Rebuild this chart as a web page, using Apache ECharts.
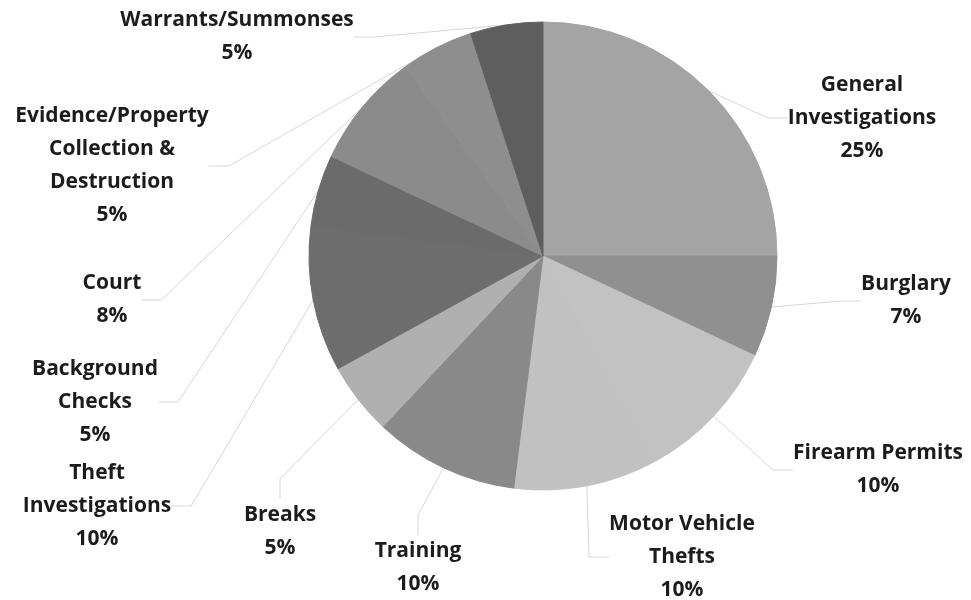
<html>
<head>
<meta charset="utf-8">
<style>
  html, body { margin: 0; padding: 0; background: #ffffff; }
  #chart1 { width: 971px; height: 600px; }
</style>
</head>
<body>
<div id="chart1"></div>
<script src="https://cdn.jsdelivr.net/npm/echarts@6/dist/echarts.min.js"></script>
<script>
  // categories, clockwise from 12 o'clock
  const categories = [
    'General\nInvestigations', 'Burglary', 'Firearm Permits', 'Motor Vehicle\nThefts',
    'Training', 'Breaks', 'Theft\nInvestigations', 'Background\nChecks',
    'Court', 'Evidence/Property\nCollection &\nDestruction', 'Warrants/Summonses'
  ];
  const values = [25, 7, 10, 10, 10, 5, 10, 5, 8, 5, 5];
  const colors = ['#a4a4a4', '#909090', '#c2c2c2', '#c1c1c1', '#898989', '#b0b0b0',
                  '#6d6d6d', '#6b6b6b', '#8b8b8b', '#8e8e8e', '#5e5e5e'];

  // where each label block sits (centre of the text block)
  const labelSpots = [
    [862, 118], [906, 301], [878, 470], [682, 557], [418, 568], [280, 532],
    [97, 506], [95, 402], [112, 300], [112, 166], [237, 37]
  ];

  let seriesData = [];
  for (let i = 0; i < values.length; i++) {
    seriesData.push({
      name: categories[i],
      value: values[i],
      // border in the slice's own colour hides the seams between slices
      itemStyle: { color: colors[i], borderColor: colors[i], borderWidth: 1 }
    });
  }

  let myChart = echarts.init(document.getElementById('chart1'));
  let option = {
    animation: false,
    series: [{
      type: 'pie',
      center: [543, 256],
      radius: 234,
      startAngle: 90,
      clockwise: true,
      percentPrecision: 0,
      avoidLabelOverlap: false,
      data: seriesData,
      label: {
        show: true,
        formatter: '{b}\n{d}%',
        fontFamily: 'Open Sans',
        fontWeight: 'bold',
        fontSize: 21,
        lineHeight: 33,
        color: '#1c1c1c',
        align: 'center'
      },
      labelLine: {
        show: true,
        length: 20,
        length2: 20,
        lineStyle: { color: '#d6d6d6', width: 1 }
      },
      labelLayout: function (params) {
        let p = labelSpots[params.dataIndex];
        return { x: p[0], y: p[1], align: 'center', verticalAlign: 'middle' };
      }
    }]
  };
  myChart.setOption(option);
</script>
</body>
</html>
